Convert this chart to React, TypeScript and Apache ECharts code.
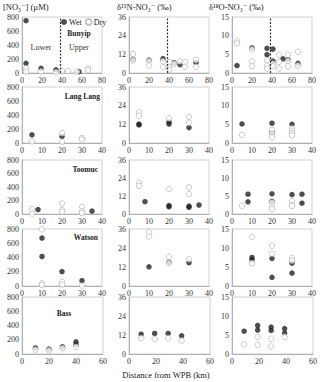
import React, { useEffect, useRef } from "react";
import * as echarts from "echarts";

// ---- data ----
const sites = ["Bunyip", "Lang Lang", "Toomuc", "Watson", "Bass"];
const columnTitles = ["[NO\u2083\u207B] (\u00B5M)", "\u03B4\u00B9\u2075N-NO\u2083\u207B (\u2030)", "\u03B4\u00B9\u2078O-NO\u2083\u207B (\u2030)"];
const yMax = [800, 36, 15];
const yStep = [200, 12, 5];
const xMax = [80, 40, 40, 40, 60];
const xStep = [20, 10, 10, 10, 20];
const zoneLabels = ["Lower", "Upper"];
const zoneBoundaryKm = 38;
const xAxisTitle = "Distance from WPB (km)";

const bunyipNO3Wet = [[4, 747], [4, 139], [19, 67], [34, 45], [57, 18]];
const bunyipNO3Dry = [[4, 67], [4, 20], [19, 22], [34, 10], [40, 30], [46, 30], [55, 20], [66, 65], [66, 40]];
const bunyipD15NWet = [[4, 8.8], [20, 8.3], [34, 9.2], [45, 6.6], [51, 5.4], [67, 6.6]];
const bunyipD15NDry = [[4, 12.2], [4, 8.2], [20, 7.7], [20, 4.8], [34, 7.5], [34, 3.8], [40, 7], [40, 4], [40, 2.2], [45, 6], [51, 7.5], [56, 7], [56, 4], [67, 8.5], [67, 4]];
const bunyipD18OWet = [[5, 2], [20, 6.7], [35, 6.6], [35, 4.9], [41, 6.4], [41, 3.2], [51, 3.8], [56, 3.6], [66, 2.6]];
const bunyipD18ODry = [[5, 8.6], [5, 7.9], [20, 6.3], [20, 3.1], [20, 1.8], [35, 3.4], [35, 2], [35, 1.2], [41, 2.5], [41, 1.8], [47, 4.9], [47, 3], [47, 1.2], [56, 4.9], [56, 3.2], [56, 1.8], [66, 5.7], [66, 2]];

const langNO3Wet = [[5, 117], [20, 93]];
const langNO3Dry = [[5, 23], [20, 141], [20, 18], [30, 70], [30, 50]];
const langD15NWet = [[5, 11.6], [5, 12.2], [20, 12.2], [20, 13.5], [30, 9.9]];
const langD15NDry = [[5, 19.7], [5, 17.6], [20, 15.9], [30, 16.9], [30, 13.1]];
const langD18OWet = [[5, 5.1], [20, 5.3], [20, 2.8], [30, 5.0]];
const langD18ODry = [[5, 2.2], [20, 3.5], [20, 2.4], [20, 1.5], [30, 3.9], [30, 3.3], [30, 2.6], [30, 2.0]];

const toomucNO3Wet = [[8, 65], [35, 44]];
const toomucNO3Dry = [[5, 74], [5, 5], [20, 158], [20, 59], [20, 34], [30, 108], [30, 40], [30, 15]];
const toomucD15NWet = [[8, 8.2], [20, 5.6], [20, 4.8], [30, 5.3], [30, 4.5], [35, 6.0]];
const toomucD15NDry = [[5, 20.9], [5, 18.7], [20, 16.7], [30, 17.8], [30, 13.3]];
const toomucD18OWet = [[8, 5.5], [8, 3.4], [20, 5.6], [20, 3.5], [30, 5.4], [35, 5.5], [35, 3.0]];
const toomucD18ODry = [[5, 2.3], [20, 3.2], [20, 2.0], [20, 1.4], [30, 3.6], [30, 2.5], [30, 2.2]];

const watsonNO3Wet = [[10, 673], [10, 414], [20, 202], [30, 75]];
const watsonNO3Dry = [[10, 795], [10, 38], [10, 15], [20, 60], [20, 20], [30, 5]];
const watsonD15NWet = [[10, 12.1], [20, 15], [30, 14.7]];
const watsonD15NDry = [[10, 33.9], [10, 31.3], [20, 18.5], [20, 14.5], [30, 16.9]];
const watsonD18OWet = [[10, 7.5], [10, 6.9], [20, 7.3], [20, 2.3], [30, 6.0], [30, 3.4]];
const watsonD18ODry = [[10, 12.9], [10, 6.0], [20, 10.6], [20, 8.5], [30, 7.3], [30, 6.7]];

const bassNO3Wet = [[10, 85], [20, 70], [30, 100], [40, 170], [40, 130]];
const bassNO3Dry = [[10, 60], [20, 50], [30, 80], [40, 100]];
const bassD15NWet = [[9, 12.5], [19, 13], [29, 13], [39, 11.5]];
const bassD15NDry = [[9, 10], [19, 9.5], [29, 10], [39, 8.5]];
const bassD18OWet = [[9, 6], [19, 7.5], [19, 6.3], [29, 7.1], [29, 6.2], [39, 6.7], [39, 5.5]];
const bassD18ODry = [[9, 2.5], [19, 4.5], [19, 2.4], [29, 4], [29, 2], [39, 4.5]];

const panelData = [
  [[bunyipNO3Wet, bunyipNO3Dry], [bunyipD15NWet, bunyipD15NDry], [bunyipD18OWet, bunyipD18ODry]],
  [[langNO3Wet, langNO3Dry], [langD15NWet, langD15NDry], [langD18OWet, langD18ODry]],
  [[toomucNO3Wet, toomucNO3Dry], [toomucD15NWet, toomucD15NDry], [toomucD18OWet, toomucD18ODry]],
  [[watsonNO3Wet, watsonNO3Dry], [watsonD15NWet, watsonD15NDry], [watsonD18OWet, watsonD18ODry]],
  [[bassNO3Wet, bassNO3Dry], [bassD15NWet, bassD15NDry], [bassD18OWet, bassD18ODry]],
];

// ---- layout ----
const FONT = '"Liberation Serif", "DejaVu Serif", serif';
const colLeft = [22, 129, 232];
const rowWidth = [80, 80, 80, 80, 81];
const rowTop = [17, 87, 160, 229, 297];
const rowHeight = [56, 56, 54, 57, 57];
const siteLabelPos = [
  { x: 79, y: 33, align: "center" },
  { x: 100, y: 96, align: "right" },
  { x: 98, y: 169, align: "right" },
  { x: 98, y: 237, align: "right" },
  { x: 64, y: 313, align: "center" },
];

export default function App() {
  const ref = useRef<HTMLDivElement>(null);
  useEffect(() => {
    if (!ref.current) return;
    const chart = echarts.init(ref.current, null, { renderer: "svg" });
    const grid: any[] = [];
    const xAxis: any[] = [];
    const yAxis: any[] = [];
    const series: any[] = [];
    let idx = 0;
    for (let r = 0; r < 5; r++) {
      for (let c = 0; c < 3; c++) {
        grid.push({
          left: colLeft[c], top: rowTop[r], width: rowWidth[r], height: rowHeight[r],
          show: true, borderColor: "#d0d0d0", borderWidth: 1, backgroundColor: "transparent",
        });
        xAxis.push({
          gridIndex: idx, type: "value", min: 0, max: xMax[r], interval: xStep[r],
          axisLine: { show: true, lineStyle: { color: "#b0b0b0" } },
          axisTick: { show: false },
          splitLine: { show: false },
          axisLabel: { fontSize: 8, fontFamily: FONT, color: "#333", margin: 3 },
        });
        yAxis.push({
          gridIndex: idx, type: "value", min: 0, max: yMax[c], interval: yStep[c],
          axisLine: { show: true, lineStyle: { color: "#b0b0b0" } },
          axisTick: { show: false },
          splitLine: { show: false },
          axisLabel: { fontSize: 8, fontFamily: FONT, color: "#333", margin: 3 },
        });
        const [wet, dry] = panelData[r][c];
        const wetSeries: any = {
          name: "Wet", type: "scatter", xAxisIndex: idx, yAxisIndex: idx,
          data: wet, symbol: "circle", symbolSize: 5.5,
          itemStyle: { color: "#222" }, z: 3,
        };
        if (r === 0) {
          wetSeries.markLine = {
            silent: true, symbol: "none", label: { show: false },
            lineStyle: { type: [2, 1.5], color: "#333", width: 1.2 },
            data: [{ xAxis: zoneBoundaryKm }],
          };
        }
        series.push(wetSeries);
        series.push({
          name: "Dry", type: "scatter", xAxisIndex: idx, yAxisIndex: idx,
          data: dry, symbol: "circle", symbolSize: 5.5,
          itemStyle: { color: "#fff", borderColor: "#b5b5b5", borderWidth: 0.9 }, z: 4,
        });
        idx++;
      }
    }
    const graphic: any[] = [];
    const titleX = [3, 117, 209];
    columnTitles.forEach((t, i) => {
      graphic.push({ type: "text", left: titleX[i], top: 2, style: { text: t, font: `8.5px ${FONT}`, fill: "#222" } });
    });
    sites.forEach((s, i) => {
      const p = siteLabelPos[i];
      graphic.push({
        type: "text", x: p.x, y: p.y,
        style: { text: s, font: `bold 7.5px ${FONT}`, fill: "#222", textAlign: p.align, textVerticalAlign: "middle" },
      });
    });
    graphic.push({ type: "text", x: 41, y: 47, style: { text: zoneLabels[0], font: `8px ${FONT}`, fill: "#333", textAlign: "center", textVerticalAlign: "middle" } });
    graphic.push({ type: "text", x: 79, y: 47, style: { text: zoneLabels[1], font: `8px ${FONT}`, fill: "#333", textAlign: "center", textVerticalAlign: "middle" } });
    graphic.push({ type: "text", x: 166, y: 375, style: { text: xAxisTitle, font: `8.5px ${FONT}`, fill: "#222", textAlign: "center", textVerticalAlign: "middle" } });

    chart.setOption({
      animation: false,
      backgroundColor: "#fff",
      legend: {
        data: ["Wet", "Dry"], left: 61, top: 18, itemWidth: 6, itemHeight: 6, itemGap: 3,
        icon: "circle", padding: 0,
        textStyle: { fontSize: 8, fontFamily: FONT, color: "#222", padding: [0, 0, 0, -3] },
      },
      grid, xAxis, yAxis, series, graphic,
    });
    return () => chart.dispose();
  }, []);
  return <div ref={ref} style={{ position: "fixed", left: 0, top: 0, width: 320, height: 382 }} />;
}
